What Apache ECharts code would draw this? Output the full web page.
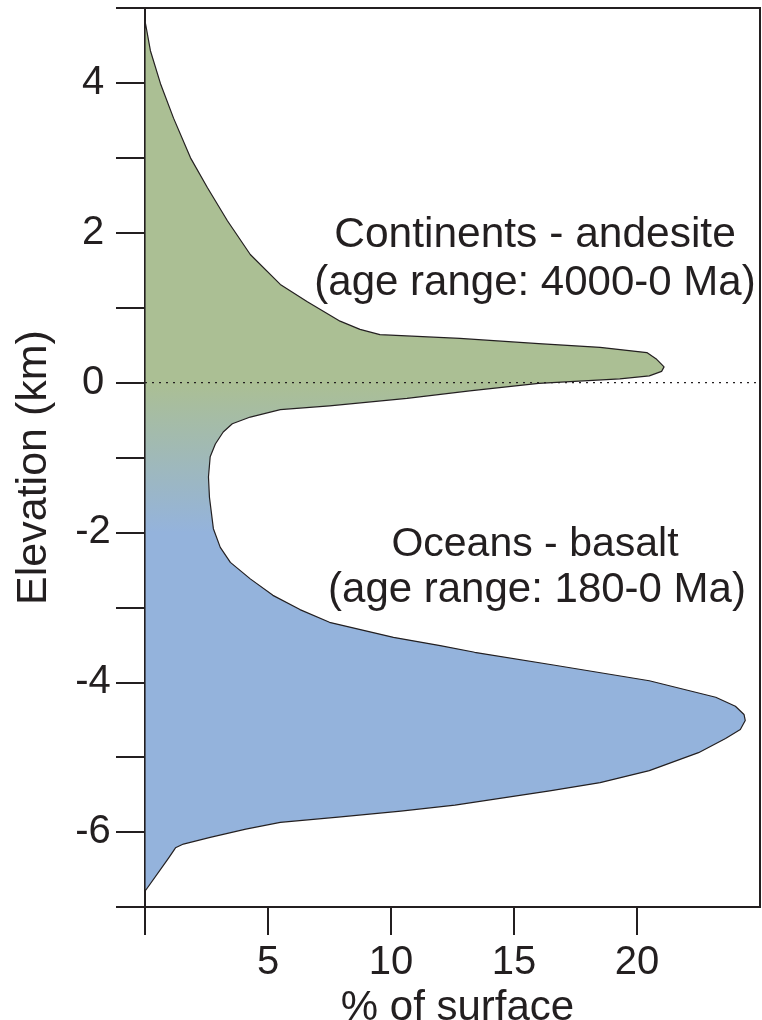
<!DOCTYPE html>
<html>
<head>
<meta charset="utf-8">
<title>Hypsometry</title>
<script src="https://cdn.jsdelivr.net/npm/echarts@6/dist/echarts.min.js"></script>
<style>
  html, body { margin: 0; padding: 0; background: #fff; }
  #main { width: 762px; height: 1020px; }
</style>
</head>
<body>
<div id="main"></div>
<script>
// outline of the distribution, traced from the top (x = 0) round to the bottom (x = 0)
var pct = [0, 0.22, 0.63, 1.16, 1.85, 2.54, 3.35, 4.28, 5.5, 6.6, 7.93, 8.74, 9.55, 12.8, 16.0, 18.5,
  20.4, 20.8, 21.1, 21.0, 20.5, 19.3, 16.0, 13.2, 10.65, 7.5, 5.5, 4.28, 3.55, 3.18, 2.86, 2.65,
  2.58, 2.62, 2.78, 3.06, 3.47, 4.28, 5.2, 6.3, 7.5, 10.1, 12.0, 13.4, 16.6, 20.5, 23.2, 24.0,
  24.35, 24.4, 24.2, 23.6, 22.5, 20.5, 18.5, 16.45, 12.6, 10.4, 7.85, 5.5, 4.1, 2.65, 1.56, 1.24,
  0.95, 0];
var elev = [4.83, 4.43, 3.99, 3.53, 3.0, 2.6, 2.16, 1.71, 1.31, 1.08, 0.82, 0.71, 0.64, 0.59, 0.52, 0.47,
  0.40, 0.31, 0.21, 0.15, 0.09, 0.05, -0.01, -0.11, -0.21, -0.31, -0.36, -0.46, -0.55, -0.66, -0.82, -0.99,
  -1.26, -1.53, -1.95, -2.2, -2.4, -2.62, -2.84, -3.03, -3.2, -3.4, -3.51, -3.6, -3.77, -3.98, -4.2, -4.32,
  -4.43, -4.51, -4.63, -4.75, -4.94, -5.18, -5.34, -5.45, -5.64, -5.72, -5.8, -5.87, -5.96, -6.07, -6.16, -6.21,
  -6.35, -6.79];

var xTicks = [0, 5, 10, 15, 20];
var xLabels = [5, 10, 15, 20];
var yLabels = [-6, -4, -2, 0, 2, 4];
var seaLevel = [[0, 0], [25, 0]];

var ink = '#231f20';
var green = '#abbf94';
var blue = '#94b3dc';
var font = 'Liberation Sans, Arial, Helvetica, sans-serif';

// gradient stops from green (land) to blue (sea floor), in the shape's bounding box
var top_ = Math.max.apply(null, elev);
var bot_ = Math.min.apply(null, elev);
function stop(e) { return (top_ - e) / (top_ - bot_); }
var fill = {
  type: 'linear', x: 0, y: 0, x2: 0, y2: 1,
  colorStops: [
    { offset: 0, color: green },
    { offset: stop(0), color: green },
    { offset: stop(-2.0), color: blue },
    { offset: 1, color: blue }
  ]
};

var chart = echarts.init(document.getElementById('main'));

chart.setOption({
  animation: false,
  textStyle: { fontFamily: font, color: ink },
  grid: {
    left: 145, right: 2, top: 8, bottom: 113,
    outerBoundsMode: 'none',
    show: true, borderColor: ink, borderWidth: 2
  },
  xAxis: {
    type: 'value', min: 0, max: 25, interval: 5,
    name: '% of surface', nameLocation: 'middle', nameGap: 72,
    nameTextStyle: { fontSize: 42, color: ink, fontFamily: font, padding: [0, 0, 0, 10] },
    axisLine: { onZero: false, lineStyle: { color: ink, width: 2 } },
    axisTick: { length: 28, lineStyle: { color: ink, width: 2 }, customValues: xTicks },
    axisLabel: { fontSize: 40, color: ink, margin: 36, customValues: xLabels },
    splitLine: { show: false }
  },
  yAxis: {
    type: 'value', min: -7, max: 5, interval: 1,
    name: 'Elevation (km)', nameLocation: 'middle', nameGap: 89, nameRotate: 90,
    nameTextStyle: { fontSize: 43, color: ink, fontFamily: font, padding: [0, 20, 0, 0] },
    axisLine: { onZero: false, lineStyle: { color: ink, width: 2 } },
    axisTick: { length: 29, lineStyle: { color: ink, width: 2 } },
    axisLabel: { fontSize: 40, color: ink, margin: 52, align: 'center', customValues: yLabels },
    splitLine: { show: false }
  },
  series: [
    {
      type: 'custom',
      data: pct.map(function (p, i) { return [p, elev[i]]; }),
      encode: { x: 0, y: 1 },
      renderItem: function (params, api) {
        if (params.dataIndex !== 0) return;
        var pts = pct.map(function (p, i) { return api.coord([p, elev[i]]); });
        return {
          type: 'polygon',
          shape: { points: pts },
          style: { fill: fill, stroke: ink, lineWidth: 1.2, lineJoin: 'round' }
        };
      },
      z: 2
    },
    {
      type: 'line',
      data: seaLevel,
      symbol: 'none',
      lineStyle: { color: ink, width: 1.3, type: [2, 5] },
      z: 3
    }
  ],
  graphic: [
    { type: 'text', x: 535, y: 235, style: { text: 'Continents - andesite', font: '42.5px ' + font, fill: ink, align: 'center', verticalAlign: 'middle' } },
    { type: 'text', x: 535, y: 283, style: { text: '(age range: 4000-0 Ma)', font: '42px ' + font, fill: ink, align: 'center', verticalAlign: 'middle' } },
    { type: 'text', x: 535, y: 545, style: { text: 'Oceans - basalt', font: '41px ' + font, fill: ink, align: 'center', verticalAlign: 'middle' } },
    { type: 'text', x: 537, y: 590, style: { text: '(age range: 180-0 Ma)', font: '42px ' + font, fill: ink, align: 'center', verticalAlign: 'middle' } }
  ]
});
</script>
</body>
</html>
